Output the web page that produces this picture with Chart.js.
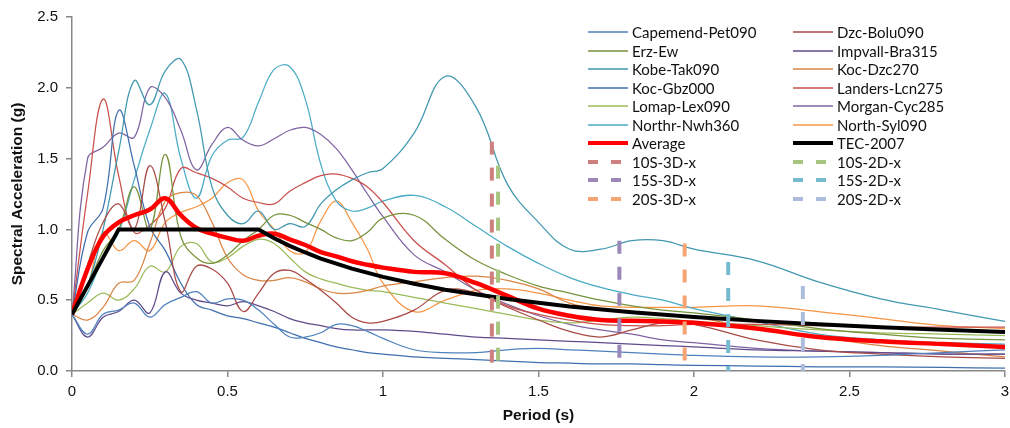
<!DOCTYPE html>
<html lang="en">
<head>
  <meta charset="UTF-8" />
  <title>Spectral Acceleration vs Period</title>
  <script src="https://cdn.jsdelivr.net/npm/chart.js"></script>
  <style>
    html, body {
      margin: 0;
      padding: 0;
      background: #fff;
    }
    .wrap {
      position: relative;
      width: 1010px;
      height: 428px;
    }
    #legend {
      position: absolute;
      left: 588px;
      top: 23px;
      display: grid;
      grid-template-columns: 205px 180px;
      font-family: Lato, "Liberation Sans", sans-serif;
      font-size: 15px;
      color: #111;
    }
    .item {
      display: flex;
      align-items: center;
      height: 18.5px;
      white-space: nowrap;
    }
    .item svg {
      flex: none;
      margin-right: 4px;
    }
  </style>
</head>
<body>
  <div class="wrap">
    <canvas id="chart" width="1010" height="428"></canvas>
    <div id="legend"></div>
  </div>

  <script>
    // periods (s) shared by the record spectra and the average
    const periods = [0, 0.05, 0.1, 0.15, 0.2, 0.25, 0.3, 0.35, 0.4, 0.45, 0.5, 0.55, 0.6, 0.65, 0.7, 0.75, 0.8, 0.85, 0.9, 0.95,
      1.0, 1.1, 1.2, 1.3, 1.4, 1.5, 1.6, 1.7, 1.8, 1.9, 2.0, 2.2, 2.4, 2.6, 2.8, 3.0];

    const capemend = [0.40, 0.26, 0.40, 0.43, 0.48, 0.38, 0.47, 0.52, 0.56, 0.48, 0.51, 0.50, 0.43, 0.33, 0.24, 0.24, 0.27, 0.33, 0.32, 0.28,
      0.23, 0.15, 0.13, 0.13, 0.15, 0.16, 0.15, 0.14, 0.13, 0.12, 0.11, 0.10, 0.10, 0.11, 0.13, 0.15];
    const dzcBolu = [0.40, 0.75, 1.05, 1.18, 1.00, 1.45, 1.05, 0.56, 0.74, 0.72, 0.62, 0.42, 0.55, 0.69, 0.71, 0.65, 0.57, 0.48, 0.38, 0.34,
      0.35, 0.43, 0.57, 0.55, 0.45, 0.36, 0.28, 0.24, 0.29, 0.34, 0.33, 0.22, 0.15, 0.12, 0.10, 0.09];
    const erzEw = [0.40, 0.60, 0.85, 1.00, 1.30, 1.00, 1.53, 0.95, 0.80, 0.76, 0.82, 0.92, 1.00, 1.10, 1.10, 1.05, 1.00, 0.94, 0.92, 0.98,
      1.08, 1.10, 0.93, 0.78, 0.68, 0.60, 0.55, 0.50, 0.46, 0.43, 0.41, 0.36, 0.30, 0.26, 0.23, 0.22];
    const impvall = [0.40, 0.24, 0.38, 0.42, 0.50, 0.41, 0.70, 0.55, 0.50, 0.48, 0.46, 0.49, 0.46, 0.42, 0.37, 0.34, 0.32, 0.30, 0.29, 0.29,
      0.29, 0.28, 0.26, 0.24, 0.23, 0.22, 0.21, 0.20, 0.19, 0.18, 0.17, 0.15, 0.14, 0.13, 0.12, 0.12];
    const kobeTak = [0.40, 0.60, 1.00, 1.55, 2.05, 1.88, 2.12, 2.20, 1.85, 1.30, 1.10, 1.04, 1.13, 1.00, 1.04, 1.02, 1.18, 1.28, 1.35, 1.40,
      1.43, 1.68, 2.08, 1.86, 1.32, 1.05, 0.86, 0.86, 0.92, 0.92, 0.86, 0.78, 0.63, 0.51, 0.43, 0.35];
    const kocDzc = [0.40, 0.36, 0.45, 0.62, 0.64, 0.90, 1.20, 1.26, 1.24, 1.05, 0.80, 0.68, 0.64, 0.64, 0.66, 0.63, 0.58, 0.55, 0.55, 0.57,
      0.60, 0.63, 0.66, 0.67, 0.64, 0.58, 0.48, 0.44, 0.42, 0.40, 0.38, 0.30, 0.24, 0.18, 0.14, 0.10];
    const kocGbz = [0.40, 0.98, 1.15, 1.84, 1.45, 1.02, 0.85, 0.62, 0.47, 0.43, 0.39, 0.37, 0.34, 0.31, 0.27, 0.23, 0.20, 0.17, 0.15, 0.13,
      0.12, 0.10, 0.09, 0.08, 0.07, 0.06, 0.055, 0.05, 0.05, 0.045, 0.04, 0.035, 0.03, 0.03, 0.025, 0.02];
    const landers = [0.40, 1.25, 1.92, 1.38, 0.98, 1.03, 1.15, 1.43, 1.40, 1.36, 1.30, 1.22, 1.19, 1.18, 1.27, 1.33, 1.38, 1.39, 1.36, 1.30,
      1.19, 0.92, 0.75, 0.57, 0.46, 0.40, 0.36, 0.33, 0.32, 0.32, 0.33, 0.33, 0.32, 0.31, 0.31, 0.31];
    const lomap = [0.40, 0.48, 0.55, 0.50, 0.58, 0.74, 0.70, 0.88, 0.90, 0.77, 0.80, 0.88, 0.93, 0.90, 0.80, 0.70, 0.65, 0.62, 0.59, 0.57,
      0.56, 0.52, 0.48, 0.44, 0.40, 0.36, 0.34, 0.36, 0.38, 0.37, 0.35, 0.32, 0.29, 0.27, 0.26, 0.25];
    const morgan = [0.40, 1.50, 1.58, 1.68, 1.65, 2.00, 1.93, 1.70, 1.42, 1.60, 1.72, 1.63, 1.59, 1.64, 1.70, 1.72, 1.67, 1.57, 1.42, 1.25,
      1.09, 0.82, 0.70, 0.57, 0.47, 0.39, 0.33, 0.29, 0.26, 0.22, 0.20, 0.16, 0.14, 0.13, 0.12, 0.12];
    const northr = [0.40, 0.55, 0.80, 0.98, 1.35, 1.70, 1.96, 1.50, 1.22, 1.52, 1.63, 1.65, 1.90, 2.13, 2.15, 1.92, 1.46, 1.20, 1.13, 1.15,
      1.20, 1.24, 1.16, 1.02, 0.88, 0.76, 0.66, 0.59, 0.54, 0.50, 0.44, 0.35, 0.26, 0.22, 0.20, 0.19];
    const northSyl = [0.40, 0.60, 0.98, 0.85, 0.92, 0.85, 1.05, 1.12, 1.16, 1.22, 1.33, 1.35, 1.13, 1.00, 0.85, 0.84, 1.06, 1.20, 1.05, 0.86,
      0.62, 0.42, 0.50, 0.57, 0.58, 0.55, 0.50, 0.46, 0.45, 0.45, 0.45, 0.46, 0.42, 0.37, 0.32, 0.30];
    const average = [0.40, 0.72, 0.95, 1.05, 1.10, 1.14, 1.22, 1.10, 1.01, 0.97, 0.94, 0.92, 0.955, 0.97, 0.93, 0.89, 0.84, 0.81, 0.775, 0.75,
      0.73, 0.70, 0.69, 0.62, 0.53, 0.44, 0.39, 0.36, 0.355, 0.35, 0.34, 0.30, 0.24, 0.21, 0.19, 0.17];

    // design spectrum
    const tecPeriods = [0, 0.15, 0.6, 0.65, 0.7, 0.75, 0.8, 0.9, 1.0, 1.1, 1.2, 1.4, 1.6, 1.8, 2.0, 2.2, 2.4, 2.6, 2.8, 3.0];
    const tecValues = [0.4, 1.0, 1.0, 0.938, 0.884, 0.837, 0.794, 0.723, 0.665, 0.616, 0.574, 0.508, 0.456, 0.415, 0.382, 0.354, 0.330, 0.309, 0.292, 0.276];

    // building periods (dashed markers)
    const markerNames = ['10S-3D-x', '10S-2D-x', '15S-3D-x', '15S-2D-x', '20S-3D-x', '20S-2D-x'];
    const markerPeriods = [1.35, 1.37, 1.76, 2.11, 1.97, 2.35];
    const markerHeights = [1.62, 1.45, 0.92, 0.77, 0.90, 0.60];
    const markerColors = ['#CD807D', '#A6C57F', '#9B88B9', '#76BAD0', '#F5A574', '#ABBCDC'];

    const seriesNames = ['Capemend-Pet090', 'Dzc-Bolu090', 'Erz-Ew', 'Impvall-Bra315', 'Kobe-Tak090', 'Koc-Dzc270',
      'Koc-Gbz000', 'Landers-Lcn275', 'Lomap-Lex090', 'Morgan-Cyc285', 'Northr-Nwh360', 'North-Syl090'];
    const seriesValues = [capemend, dzcBolu, erzEw, impvall, kobeTak, kocDzc, kocGbz, landers, lomap, morgan, northr, northSyl];
    const seriesColors = ['#4F81BD', '#A94A46', '#77933C', '#5F4B8B', '#4198AF', '#DB8443',
      '#3F6FAF', '#C9504C', '#9BBB59', '#8064A2', '#4BACC6', '#F79646'];

    const xTickLabels = ['0', '0.5', '1', '1.5', '2', '2.5', '3'];
    const yTickLabels = ['0.0', '0.5', '1.0', '1.5', '2.0', '2.5'];

    const datasets = [];
    seriesNames.forEach((name, i) => {
      datasets.push({
        label: name,
        data: periods.map((p, j) => ({ x: p, y: seriesValues[i][j] })),
        borderColor: seriesColors[i],
        borderWidth: 1.25,
        tension: 0.4,
        pointRadius: 0,
        order: 3
      });
    });
    datasets.push({
      label: 'Average',
      data: periods.map((p, j) => ({ x: p, y: average[j] })),
      borderColor: '#FF0000',
      borderWidth: 4.5,
      tension: 0.4,
      pointRadius: 0,
      order: 2
    });
    datasets.push({
      label: 'TEC-2007',
      data: tecPeriods.map((p, j) => ({ x: p, y: tecValues[j] })),
      borderColor: '#000000',
      borderWidth: 4,
      tension: 0,
      pointRadius: 0,
      order: 1
    });
    markerNames.forEach((name, i) => {
      datasets.push({
        label: name,
        data: [{ x: markerPeriods[i], y: markerHeights[i] }, { x: markerPeriods[i], y: 0 }],
        borderColor: markerColors[i],
        borderWidth: 4,
        borderDash: [13, 13],
        tension: 0,
        pointRadius: 0,
        order: 0
      });
    });

    const axisColor = '#878787';
    const tickFont = { family: '"Liberation Sans", Arial, sans-serif', size: 15 };
    const titleFont = { family: '"Liberation Sans", Arial, sans-serif', size: 15.5, weight: 'bold' };

    new Chart(document.getElementById('chart'), {
      type: 'line',
      data: { datasets },
      options: {
        responsive: false,
        animation: false,
        devicePixelRatio: 1,
        layout: { padding: { top: 15, right: 5, bottom: 0, left: 0 } },
        plugins: {
          legend: { display: false },
          tooltip: { enabled: false }
        },
        scales: {
          x: {
            type: 'linear',
            min: 0,
            max: 3,
            border: { color: axisColor, width: 1.5 },
            grid: { drawOnChartArea: false, tickLength: 6, color: axisColor, lineWidth: 1.5 },
            ticks: {
              stepSize: 0.5,
              padding: 6,
              maxRotation: 0,
              color: '#111',
              font: tickFont,
              callback: (v, i) => xTickLabels[i]
            },
            title: { display: true, text: 'Period (s)', color: '#111', font: titleFont, padding: { top: 0, bottom: 3 } },
            afterFit: (s) => {
              s.height = 57;
              // let the last tick label hang into the margin like the original
              s.paddingRight = 0;
              s.paddingLeft = 0;
            }
          },
          y: {
            type: 'linear',
            min: 0,
            max: 2.5,
            border: { color: axisColor, width: 1.5 },
            grid: { drawOnChartArea: false, tickLength: 6, color: axisColor, lineWidth: 1.5 },
            ticks: {
              stepSize: 0.5,
              padding: 8,
              color: '#111',
              font: tickFont,
              callback: (v, i) => yTickLabels[i]
            },
            title: { display: true, text: 'Spectral Acceleration (g)', color: '#111', font: titleFont, padding: { top: 8, bottom: 0 } },
            afterFit: (s) => { s.width = 72; }
          }
        }
      }
    });

    // html legend, two columns, row by row like the original
    const legend = document.getElementById('legend');
    datasets.forEach((ds) => {
      const item = document.createElement('div');
      item.className = 'item';
      const w = Math.min(Math.max(ds.borderWidth, 1.5), 4);
      const dash = ds.borderDash ? 'stroke-dasharray="10 13"' : '';
      item.innerHTML = `<svg width="40" height="8"><line x1="0" y1="4" x2="40" y2="4" stroke="${ds.borderColor}" stroke-width="${w}" ${dash}/></svg><span>${ds.label}</span>`;
      legend.appendChild(item);
    });
  </script>
</body>
</html>
